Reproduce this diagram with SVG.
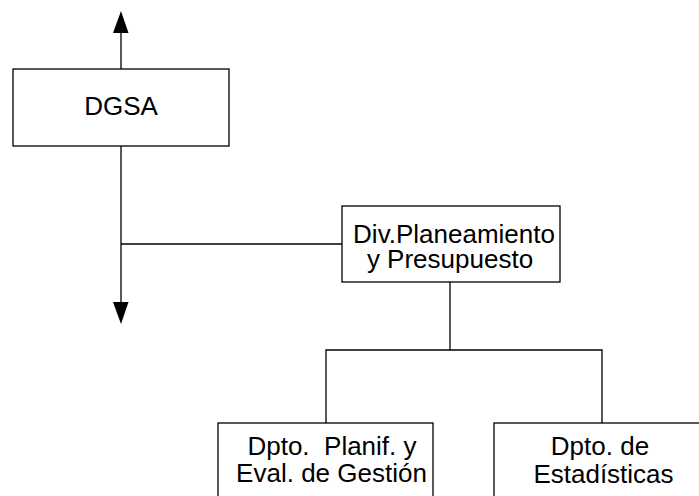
<svg xmlns="http://www.w3.org/2000/svg" width="699" height="496" viewBox="0 0 699 496">
<style>
.box{fill:#fff;stroke:#000;stroke-width:1.3}
.ln{fill:none;stroke:#000;stroke-width:1.3}
.ah{fill:#000;stroke:none}
text{font-family:"Liberation Sans",Arial,sans-serif;font-size:26px;fill:#000;text-anchor:middle}
</style>
<rect width="699" height="496" fill="#fff"/>
<g id="connectors">
<line class="ln" x1="121" y1="33" x2="121" y2="69"/>
<polygon class="ah" points="121,11 113,33 128.5,33"/>
<line class="ln" x1="121" y1="146" x2="121" y2="303"/>
<polygon class="ah" points="121,324 113,302 128.5,302"/>
<line class="ln" x1="121" y1="244" x2="342" y2="244"/>
<line class="ln" x1="450" y1="282" x2="450" y2="350"/>
<polyline class="ln" points="326,423 326,350 602,350 602,423"/>
</g>
<g id="dgsa">
<rect class="box" x="13" y="69" width="216" height="77"/>
<text x="121" y="115">DGSA</text>
</g>
<g id="div-planeamiento">
<rect class="box" x="342" y="206" width="218" height="76"/>
<text><tspan x="454" y="243">Div.Planeamiento</tspan><tspan x="450" y="267.5">y Presupuesto</tspan></text>
</g>
<g id="dpto-planif">
<rect class="box" x="218" y="423" width="215" height="90"/>
<text xml:space="preserve"><tspan x="332" y="454.5">Dpto.  Planif. y</tspan><tspan x="331.5" y="481.5">Eval. de Gestión</tspan></text>
</g>
<g id="dpto-estadisticas">
<rect class="box" x="494" y="423" width="220" height="90"/>
<text><tspan x="600" y="454.5">Dpto. de</tspan><tspan x="603.5" y="482.5">Estadísticas</tspan></text>
</g>
</svg>
